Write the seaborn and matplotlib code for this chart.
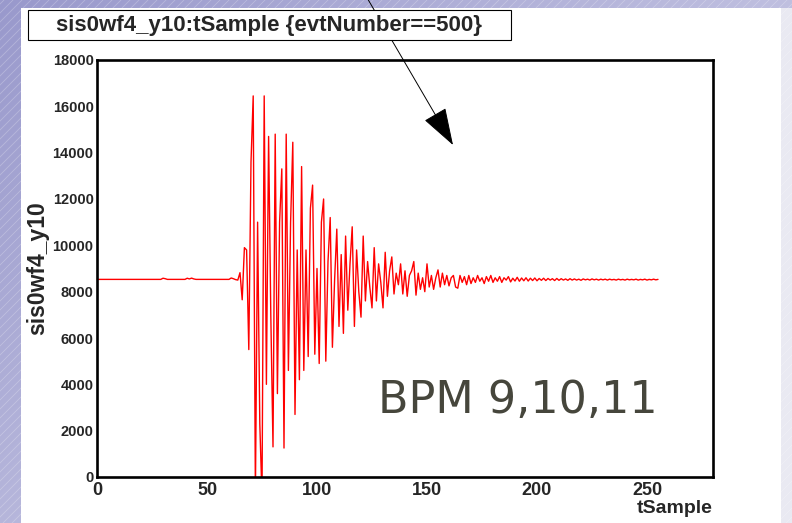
import numpy as np
import pandas as pd
import seaborn as sns
import matplotlib.pyplot as plt
from matplotlib.patches import Rectangle
from matplotlib.ticker import MultipleLocator, NullFormatter

# waveform of event 500, one value per tSample
values = [
    8530, 8530, 8530, 8530, 8530, 8530, 8530, 8530, 8530, 8530, 8530, 8530, 8530, 8530, 8530, 8530,
    8530, 8530, 8530, 8530, 8530, 8530, 8530, 8530, 8530, 8530, 8530, 8530, 8530, 8530, 8580, 8560,
    8530, 8530, 8530, 8530, 8530, 8530, 8530, 8530, 8530, 8580, 8550, 8585, 8550, 8530, 8530, 8530,
    8530, 8530, 8530, 8530, 8530, 8530, 8530, 8530, 8530, 8530, 8530, 8530, 8530, 8590, 8560, 8520,
    8500, 8820, 7650, 9900, 9800, 5500, 13600, 16450, -800, 11000, 2300, -900, 16450, 4000, 14700, 7000,
    1300, 14800, 3600, 11000, 13300, 1250, 14800, 4600, 11000, 14450, 2700, 9800, 4200, 13400, 4600, 9800,
    5200, 11600, 12600, 5300, 9000, 4900, 11000, 12000, 5000, 9300, 11200, 5600, 8500, 10700, 6500, 9600,
    6200, 10400, 7200, 9200, 10800, 6500, 9800, 8000, 6900, 10400, 7600, 9300, 8200, 7300, 9900, 7600,
    9200, 8400, 7300, 9700, 7800, 8900, 9500, 7900, 8800, 8300, 9200, 7900, 8900, 7800, 8700, 8900,
    9300, 7850, 8800, 8100, 8600, 8000, 9200, 8200, 8700, 8100, 8600, 8940, 8200, 8800, 8300, 8700,
    8250, 8600, 8700, 8200, 8150, 8700, 8400, 8650, 8300, 8700, 8350, 8600, 8400, 8700, 8450, 8600,
    8350, 8650, 8450, 8700, 8400, 8600, 8450, 8650, 8400, 8600, 8500, 8650, 8420, 8580, 8460, 8620,
    8450, 8590, 8470, 8600, 8460, 8580, 8480, 8590, 8470, 8570, 8490, 8580, 8480, 8570, 8500, 8560,
    8480, 8570, 8490, 8560, 8500, 8550, 8490, 8560, 8500, 8550, 8500, 8540, 8490, 8550, 8510, 8540,
    8500, 8550, 8510, 8540, 8500, 8540, 8510, 8540, 8500, 8540, 8510, 8530, 8500, 8540, 8510, 8530,
    8500, 8540, 8510, 8530, 8510, 8540, 8500, 8530, 8510, 8540, 8500, 8530, 8510, 8540, 8510, 8530,
]
t_sample = list(range(len(values)))

title_text = "sis0wf4_y10:tSample {evtNumber==500}"
x_label = "tSample"
y_label = "sis0wf4_y10"
note_text = "BPM 9,10,11"

df = pd.DataFrame({"tSample": t_sample, "sis0wf4_y10": values})

sns.set_style("white")
plt.rcParams["font.family"] = ["Liberation Sans", "DejaVu Sans"]

W, H = 792, 523
fig = plt.figure(figsize=(W / 100, H / 100), dpi=100)

# slide background: lavender gradient with faint diagonal stripes
bg = fig.add_axes([0, 0, 1, 1])
bg.set_zorder(-1)
bg.set_axis_off()
yy, xx = np.mgrid[0:H, 0:W]
f = np.clip(0.6 * xx / W + 0.45 * yy / H, 0, 1)[..., None]
c0 = np.array([0.60, 0.60, 0.80])
c1 = np.array([0.85, 0.85, 0.93])
bg.imshow(c0 + (c1 - c0) * f, extent=(0, W, H, 0), aspect="auto")
for c in range(-600, 1400, 9):
    bg.plot([c, c + H], [H, 0], color="white", alpha=0.25, lw=0.6)
bg.add_patch(Rectangle((21, 8), 760, H - 8, fc="white", ec="none"))
bg.add_patch(Rectangle((781, 8), W - 781, H - 8, fc="#e9e9f2", ec="none"))
bg.set_xlim(0, W)
bg.set_ylim(H, 0)
bg.annotate("", xy=(453, 145), xytext=(366, -4),
            arrowprops=dict(arrowstyle="-|>,head_length=2.4,head_width=0.8",
                            mutation_scale=10, lw=0.7, color="black",
                            shrinkA=0, shrinkB=0))

# title box
fig.patches.append(Rectangle((28 / W, 1 - 40 / H), 483 / W, 30 / H,
                             transform=fig.transFigure, fc="white", ec="black", lw=0.8))
fig.text(269.5 / W, 1 - 25 / H, title_text, ha="center", va="center",
         fontsize=16, fontweight="bold")

ax = fig.add_axes([97 / W, 1 - 477 / H, 616 / W, 417 / H])
ax.set_facecolor("none")
sns.lineplot(data=df, x="tSample", y="sis0wf4_y10", ax=ax, color="#ff0000",
             lw=1.0, estimator=None, sort=False)

ax.set_xlim(0, 280)
ax.set_ylim(0, 18000)
ax.xaxis.set_major_locator(MultipleLocator(50))
ax.xaxis.set_minor_locator(MultipleLocator(10))
ax.yaxis.set_major_locator(MultipleLocator(2000))
ax.yaxis.set_minor_locator(MultipleLocator(1000))
ax.yaxis.set_minor_formatter(NullFormatter())

ax.tick_params(axis="x", which="major", direction="in", length=8.6, width=1.0,
               pad=3.5, labelsize=13, top=False)
ax.tick_params(axis="x", which="minor", direction="in", length=4.3, width=1.0, top=False)
ax.tick_params(axis="y", which="major", direction="in", length=0, pad=2.5,
               labelsize=10.5, right=False)
ax.tick_params(axis="y", which="minor", direction="in", length=4.3, width=1.0, right=False)
for lab in ax.get_xticklabels() + ax.get_yticklabels():
    lab.set_fontweight("bold")

for s in ax.spines.values():
    s.set_visible(True)
    s.set_linewidth(1.9)
    s.set_color("black")

ax.set_xlabel(x_label, fontsize=14, fontweight="bold", loc="right")
ax.xaxis.set_label_coords(1.0, -0.055)
ax.set_ylabel(y_label, fontsize=16.5, fontweight="bold")
ax.yaxis.set_label_coords(-0.078, 0.5)

fig.text(378 / W, 1 - 413 / H, note_text, ha="left", va="baseline",
         fontsize=32, family="DejaVu Sans", color="#46463c")

fig.savefig("out.png", dpi=100)
